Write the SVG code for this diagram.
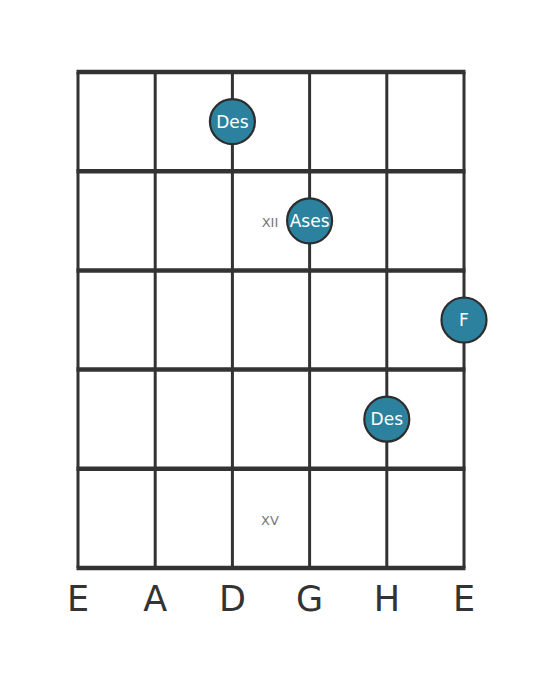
<svg xmlns="http://www.w3.org/2000/svg" width="559" height="682" viewBox="0 0 559 682">
<style>
.fret{stroke:#333;stroke-width:4.5;fill:none}
.str{stroke:#333;stroke-width:3;fill:none}
.dot{fill:#2b819e;stroke:#2d2d2d;stroke-width:2.2}
.nt{font-family:"DejaVu Sans",sans-serif;font-size:17px;fill:#fff;text-anchor:middle}
.pos{font-family:"DejaVu Sans",sans-serif;font-size:13px;fill:#777;text-anchor:middle}
.sn{font-family:"DejaVu Sans",sans-serif;font-size:35px;fill:#333;text-anchor:middle}
</style>
<rect width="559" height="682" fill="#fff"/>
<g id="connectors">
<line class="str" x1="78" y1="72" x2="78" y2="568"/>
<line class="str" x1="155.2" y1="72" x2="155.2" y2="568"/>
<line class="str" x1="232.4" y1="72" x2="232.4" y2="568"/>
<line class="str" x1="309.6" y1="72" x2="309.6" y2="568"/>
<line class="str" x1="386.8" y1="72" x2="386.8" y2="568"/>
<line class="str" x1="464" y1="72" x2="464" y2="568"/>
<line class="fret" x1="76.5" y1="72" x2="465.5" y2="72"/>
<line class="fret" x1="76.5" y1="171.2" x2="465.5" y2="171.2"/>
<line class="fret" x1="76.5" y1="270.4" x2="465.5" y2="270.4"/>
<line class="fret" x1="76.5" y1="369.6" x2="465.5" y2="369.6"/>
<line class="fret" x1="76.5" y1="468.8" x2="465.5" y2="468.8"/>
<line class="fret" x1="76.5" y1="568" x2="465.5" y2="568"/>
</g>
<g id="pos-xii"><text class="pos" x="270" y="227">XII</text></g>
<g id="pos-xv"><text class="pos" x="270" y="525">XV</text></g>
<g id="n1"><circle class="dot" cx="232.4" cy="121.6" r="22.5"/><text class="nt" x="232.4" y="127.6">Des</text></g>
<g id="n2"><circle class="dot" cx="309.6" cy="220.8" r="22.5"/><text class="nt" x="309.6" y="226.8">Ases</text></g>
<g id="n3"><circle class="dot" cx="464" cy="320" r="22.5"/><text class="nt" x="464" y="326">F</text></g>
<g id="n4"><circle class="dot" cx="386.8" cy="419.2" r="22.5"/><text class="nt" x="386.8" y="425.2">Des</text></g>
<g id="strings">
<text class="sn" x="78" y="611">E</text>
<text class="sn" x="155.2" y="611">A</text>
<text class="sn" x="232.4" y="611">D</text>
<text class="sn" x="309.6" y="611">G</text>
<text class="sn" x="386.8" y="611">H</text>
<text class="sn" x="464" y="611">E</text>
</g>
</svg>
